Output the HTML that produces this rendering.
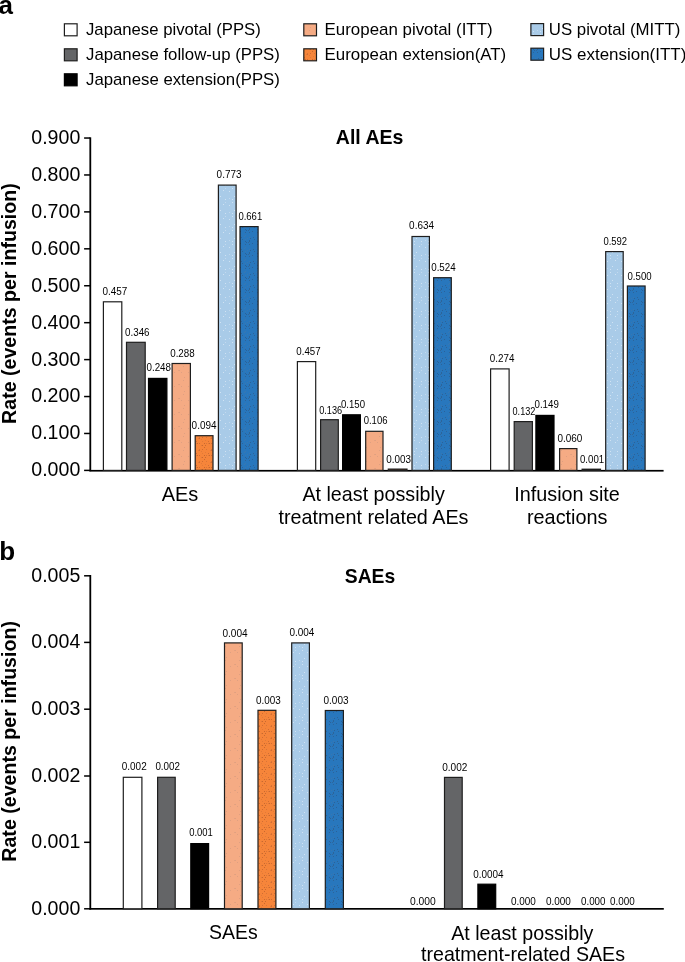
<!DOCTYPE html><html><head><meta charset="utf-8"><style>html,body{margin:0;padding:0;background:#fff;width:685px;height:962px;overflow:hidden}svg{display:block;will-change:transform}text{font-family:"Liberation Sans", sans-serif;fill:#000}</style></head><body>
<svg width="685" height="962" viewBox="0 0 685 962">
<defs>
<pattern id="pLB" width="14" height="14" patternUnits="userSpaceOnUse"><rect width="14" height="14" fill="#a9cbe8"/><rect x="5" y="2" width="1" height="1" fill="#c2d9ee"/><rect x="10" y="0" width="1" height="1" fill="#cfe2f3"/><rect x="13" y="8" width="1" height="1" fill="#cfe2f3"/><rect x="5" y="9" width="1" height="1" fill="#cfe2f3"/><rect x="8" y="3" width="1" height="1" fill="#cfe2f3"/><rect x="1" y="6" width="1" height="1" fill="#c2d9ee"/><rect x="1" y="3" width="1" height="1" fill="#cfe2f3"/><rect x="8" y="6" width="1" height="1" fill="#cfe2f3"/></pattern>
<pattern id="pBL" width="12" height="12" patternUnits="userSpaceOnUse"><rect width="12" height="12" fill="#2877bd"/><rect x="9" y="1" width="1" height="1" fill="#2d6499"/><rect x="10" y="10" width="1" height="1" fill="#2a629a"/><rect x="9" y="9" width="1" height="1" fill="#3a77b0"/><rect x="0" y="3" width="1" height="1" fill="#2a629a"/><rect x="8" y="2" width="1" height="1" fill="#31679b"/><rect x="6" y="2" width="1" height="1" fill="#2a629a"/><rect x="9" y="4" width="1" height="1" fill="#2d6499"/><rect x="1" y="9" width="1" height="1" fill="#2d6499"/><rect x="5" y="1" width="1" height="1" fill="#2a629a"/><rect x="9" y="0" width="1" height="1" fill="#2d6499"/><rect x="7" y="10" width="1" height="1" fill="#3a77b0"/><rect x="5" y="7" width="1" height="1" fill="#3a77b0"/><rect x="5" y="4" width="1" height="1" fill="#2d6499"/><rect x="2" y="11" width="1" height="1" fill="#2d6499"/><rect x="4" y="8" width="1" height="1" fill="#3a77b0"/><rect x="5" y="11" width="1" height="1" fill="#3a77b0"/></pattern>
<pattern id="pOR" width="12" height="12" patternUnits="userSpaceOnUse"><rect width="12" height="12" fill="#f6853a"/><rect x="4" y="9" width="1" height="1" fill="#d06d34"/><rect x="1" y="8" width="1" height="1" fill="#e27b39"/><rect x="2" y="5" width="1" height="1" fill="#d97537"/><rect x="7" y="6" width="1" height="1" fill="#d06d34"/><rect x="10" y="1" width="1" height="1" fill="#c9692f"/><rect x="5" y="11" width="1" height="1" fill="#c9692f"/><rect x="9" y="7" width="1" height="1" fill="#e27b39"/><rect x="1" y="1" width="1" height="1" fill="#c9692f"/><rect x="7" y="11" width="1" height="1" fill="#d06d34"/><rect x="0" y="11" width="1" height="1" fill="#c9692f"/><rect x="10" y="9" width="1" height="1" fill="#e27b39"/><rect x="4" y="11" width="1" height="1" fill="#e27b39"/><rect x="10" y="5" width="1" height="1" fill="#d06d34"/><rect x="7" y="5" width="1" height="1" fill="#d97537"/><rect x="9" y="1" width="1" height="1" fill="#e27b39"/><rect x="0" y="3" width="1" height="1" fill="#c9692f"/><rect x="2" y="11" width="1" height="1" fill="#d97537"/><rect x="6" y="6" width="1" height="1" fill="#e27b39"/></pattern>
<pattern id="pSA" width="14" height="14" patternUnits="userSpaceOnUse"><rect width="14" height="14" fill="#f5ab84"/><rect x="1" y="2" width="1" height="1" fill="#dfa081"/><rect x="6" y="8" width="1" height="1" fill="#dfa081"/><rect x="2" y="13" width="1" height="1" fill="#dfa081"/><rect x="13" y="8" width="1" height="1" fill="#dfa081"/><rect x="11" y="6" width="1" height="1" fill="#dfa081"/><rect x="10" y="6" width="1" height="1" fill="#e5a27f"/></pattern>
</defs>
<text x="-1.50" y="14.00" font-size="26" text-anchor="start" font-weight="bold">a</text>
<text x="-0.80" y="560.20" font-size="26" text-anchor="start" font-weight="bold">b</text>
<rect x="64.40" y="23.80" width="12.70" height="12.00" fill="#ffffff" stroke="#1e1e1e" stroke-width="1.2"/>
<text x="86.00" y="35.10" font-size="16.6" text-anchor="start" font-weight="normal" textLength="174.8" lengthAdjust="spacingAndGlyphs">Japanese pivotal (PPS)</text>
<rect x="64.40" y="48.80" width="12.70" height="12.00" fill="#646567" stroke="#1e1e1e" stroke-width="1.2"/>
<text x="86.00" y="60.10" font-size="16.6" text-anchor="start" font-weight="normal" textLength="193.9" lengthAdjust="spacingAndGlyphs">Japanese follow-up (PPS)</text>
<rect x="64.40" y="73.80" width="12.70" height="12.00" fill="#000000" stroke="#000" stroke-width="1.2"/>
<text x="86.00" y="85.10" font-size="16.6" text-anchor="start" font-weight="normal" textLength="193.9" lengthAdjust="spacingAndGlyphs">Japanese extension(PPS)</text>
<rect x="303.80" y="23.80" width="12.70" height="12.00" fill="url(#pSA)" stroke="#1e1e1e" stroke-width="1.2"/>
<text x="324.60" y="35.10" font-size="16.6" text-anchor="start" font-weight="normal" textLength="168.0" lengthAdjust="spacingAndGlyphs">European pivotal (ITT)</text>
<rect x="303.80" y="48.80" width="12.70" height="12.00" fill="url(#pOR)" stroke="#1e1e1e" stroke-width="1.2"/>
<text x="324.60" y="60.10" font-size="16.6" text-anchor="start" font-weight="normal" textLength="181.6" lengthAdjust="spacingAndGlyphs">European extension(AT)</text>
<rect x="530.90" y="23.60" width="12.70" height="12.00" fill="url(#pLB)" stroke="#1e1e1e" stroke-width="1.2"/>
<text x="548.80" y="34.90" font-size="16.6" text-anchor="start" font-weight="normal" textLength="131.6" lengthAdjust="spacingAndGlyphs">US pivotal (MITT)</text>
<rect x="530.90" y="48.20" width="12.70" height="12.00" fill="url(#pBL)" stroke="#1e1e1e" stroke-width="1.2"/>
<text x="548.80" y="59.50" font-size="16.6" text-anchor="start" font-weight="normal" textLength="137.5" lengthAdjust="spacingAndGlyphs">US extension(ITT)</text>
<rect x="89.4" y="137.30" width="1.8" height="333.90" fill="#000"/>
<rect x="89.4" y="469.90" width="574.20" height="1.7" fill="#000"/>
<rect x="84.1" y="469.65" width="6" height="1.5" fill="#000"/>
<text x="80.30" y="476.30" font-size="20" text-anchor="end" font-weight="normal" textLength="49.0" lengthAdjust="spacingAndGlyphs">0.000</text>
<rect x="84.1" y="432.72" width="6" height="1.5" fill="#000"/>
<text x="80.30" y="439.37" font-size="20" text-anchor="end" font-weight="normal" textLength="49.0" lengthAdjust="spacingAndGlyphs">0.100</text>
<rect x="84.1" y="395.79" width="6" height="1.5" fill="#000"/>
<text x="80.30" y="402.44" font-size="20" text-anchor="end" font-weight="normal" textLength="49.0" lengthAdjust="spacingAndGlyphs">0.200</text>
<rect x="84.1" y="358.86" width="6" height="1.5" fill="#000"/>
<text x="80.30" y="365.51" font-size="20" text-anchor="end" font-weight="normal" textLength="49.0" lengthAdjust="spacingAndGlyphs">0.300</text>
<rect x="84.1" y="321.93" width="6" height="1.5" fill="#000"/>
<text x="80.30" y="328.58" font-size="20" text-anchor="end" font-weight="normal" textLength="49.0" lengthAdjust="spacingAndGlyphs">0.400</text>
<rect x="84.1" y="285.00" width="6" height="1.5" fill="#000"/>
<text x="80.30" y="291.65" font-size="20" text-anchor="end" font-weight="normal" textLength="49.0" lengthAdjust="spacingAndGlyphs">0.500</text>
<rect x="84.1" y="248.07" width="6" height="1.5" fill="#000"/>
<text x="80.30" y="254.72" font-size="20" text-anchor="end" font-weight="normal" textLength="49.0" lengthAdjust="spacingAndGlyphs">0.600</text>
<rect x="84.1" y="211.14" width="6" height="1.5" fill="#000"/>
<text x="80.30" y="217.79" font-size="20" text-anchor="end" font-weight="normal" textLength="49.0" lengthAdjust="spacingAndGlyphs">0.700</text>
<rect x="84.1" y="174.21" width="6" height="1.5" fill="#000"/>
<text x="80.30" y="180.86" font-size="20" text-anchor="end" font-weight="normal" textLength="49.0" lengthAdjust="spacingAndGlyphs">0.800</text>
<rect x="84.1" y="137.28" width="6" height="1.5" fill="#000"/>
<text x="80.30" y="143.93" font-size="20" text-anchor="end" font-weight="normal" textLength="49.0" lengthAdjust="spacingAndGlyphs">0.900</text>
<text x="369.60" y="144.20" font-size="19.8" text-anchor="middle" font-weight="bold" textLength="67.6" lengthAdjust="spacingAndGlyphs">All AEs</text>
<text transform="translate(16,303.6) rotate(-90)" font-size="19.6" font-weight="bold" text-anchor="middle">Rate (events per infusion)</text>
<rect x="103.40" y="301.80" width="18.40" height="168.60" fill="#ffffff" stroke="#1e1e1e" stroke-width="1.2"/>
<rect x="126.50" y="342.30" width="18.70" height="128.10" fill="#646567" stroke="#1e1e1e" stroke-width="1.2"/>
<rect x="148.50" y="378.40" width="18.40" height="92.00" fill="#000000" stroke="#000" stroke-width="1.2"/>
<rect x="172.10" y="363.50" width="18.30" height="106.90" fill="url(#pSA)" stroke="#1e1e1e" stroke-width="1.2"/>
<rect x="195.20" y="435.70" width="17.80" height="34.70" fill="url(#pOR)" stroke="#1e1e1e" stroke-width="1.2"/>
<rect x="218.40" y="185.10" width="17.70" height="285.30" fill="url(#pLB)" stroke="#1e1e1e" stroke-width="1.2"/>
<rect x="240.00" y="226.60" width="18.10" height="243.80" fill="url(#pBL)" stroke="#1e1e1e" stroke-width="1.2"/>
<text x="102.40" y="294.90" font-size="10.8" text-anchor="start" font-weight="normal" textLength="24.9" lengthAdjust="spacingAndGlyphs">0.457</text>
<text x="125.00" y="335.50" font-size="10.8" text-anchor="start" font-weight="normal" textLength="24.6" lengthAdjust="spacingAndGlyphs">0.346</text>
<text x="146.50" y="370.80" font-size="10.8" text-anchor="start" font-weight="normal" textLength="24.5" lengthAdjust="spacingAndGlyphs">0.248</text>
<text x="170.20" y="356.80" font-size="10.8" text-anchor="start" font-weight="normal" textLength="24.5" lengthAdjust="spacingAndGlyphs">0.288</text>
<text x="191.60" y="429.10" font-size="10.8" text-anchor="start" font-weight="normal" textLength="24.9" lengthAdjust="spacingAndGlyphs">0.094</text>
<text x="216.60" y="178.30" font-size="10.8" text-anchor="start" font-weight="normal" textLength="24.9" lengthAdjust="spacingAndGlyphs">0.773</text>
<text x="238.40" y="220.00" font-size="10.8" text-anchor="start" font-weight="normal" textLength="23.8" lengthAdjust="spacingAndGlyphs">0.661</text>
<rect x="297.40" y="361.60" width="18.30" height="108.80" fill="#ffffff" stroke="#1e1e1e" stroke-width="1.2"/>
<rect x="320.60" y="419.70" width="17.70" height="50.70" fill="#646567" stroke="#1e1e1e" stroke-width="1.2"/>
<rect x="342.60" y="414.80" width="17.80" height="55.60" fill="#000000" stroke="#000" stroke-width="1.2"/>
<rect x="365.70" y="431.30" width="17.30" height="39.10" fill="url(#pSA)" stroke="#1e1e1e" stroke-width="1.2"/>
<rect x="388.30" y="469.10" width="18.70" height="1.30" fill="url(#pOR)" stroke="#1e1e1e" stroke-width="1.2"/>
<rect x="412.00" y="236.50" width="17.40" height="233.90" fill="url(#pLB)" stroke="#1e1e1e" stroke-width="1.2"/>
<rect x="433.60" y="277.70" width="17.70" height="192.70" fill="url(#pBL)" stroke="#1e1e1e" stroke-width="1.2"/>
<text x="296.30" y="354.80" font-size="10.8" text-anchor="start" font-weight="normal" textLength="24.3" lengthAdjust="spacingAndGlyphs">0.457</text>
<text x="319.20" y="413.80" font-size="10.8" text-anchor="start" font-weight="normal" textLength="23.0" lengthAdjust="spacingAndGlyphs">0.136</text>
<text x="340.90" y="407.60" font-size="10.8" text-anchor="start" font-weight="normal" textLength="24.1" lengthAdjust="spacingAndGlyphs">0.150</text>
<text x="363.70" y="424.30" font-size="10.8" text-anchor="start" font-weight="normal" textLength="23.8" lengthAdjust="spacingAndGlyphs">0.106</text>
<text x="386.20" y="462.60" font-size="10.8" text-anchor="start" font-weight="normal" textLength="24.7" lengthAdjust="spacingAndGlyphs">0.003</text>
<text x="409.10" y="229.00" font-size="10.8" text-anchor="start" font-weight="normal" textLength="24.9" lengthAdjust="spacingAndGlyphs">0.634</text>
<text x="431.20" y="271.00" font-size="10.8" text-anchor="start" font-weight="normal" textLength="24.5" lengthAdjust="spacingAndGlyphs">0.524</text>
<rect x="490.60" y="368.90" width="18.50" height="101.50" fill="#ffffff" stroke="#1e1e1e" stroke-width="1.2"/>
<rect x="514.20" y="421.60" width="18.20" height="48.80" fill="#646567" stroke="#1e1e1e" stroke-width="1.2"/>
<rect x="535.90" y="415.40" width="18.10" height="55.00" fill="#000000" stroke="#000" stroke-width="1.2"/>
<rect x="559.60" y="448.60" width="17.30" height="21.80" fill="url(#pSA)" stroke="#1e1e1e" stroke-width="1.2"/>
<rect x="582.10" y="469.20" width="18.40" height="1.20" fill="url(#pOR)" stroke="#1e1e1e" stroke-width="1.2"/>
<rect x="605.70" y="251.60" width="17.50" height="218.80" fill="url(#pLB)" stroke="#1e1e1e" stroke-width="1.2"/>
<rect x="627.40" y="286.00" width="17.70" height="184.40" fill="url(#pBL)" stroke="#1e1e1e" stroke-width="1.2"/>
<text x="489.80" y="362.00" font-size="10.8" text-anchor="start" font-weight="normal" textLength="24.6" lengthAdjust="spacingAndGlyphs">0.274</text>
<text x="512.50" y="414.60" font-size="10.8" text-anchor="start" font-weight="normal" textLength="22.9" lengthAdjust="spacingAndGlyphs">0.132</text>
<text x="534.50" y="408.40" font-size="10.8" text-anchor="start" font-weight="normal" textLength="24.3" lengthAdjust="spacingAndGlyphs">0.149</text>
<text x="557.40" y="441.60" font-size="10.8" text-anchor="start" font-weight="normal" textLength="24.9" lengthAdjust="spacingAndGlyphs">0.060</text>
<text x="580.00" y="462.50" font-size="10.8" text-anchor="start" font-weight="normal" textLength="24.1" lengthAdjust="spacingAndGlyphs">0.001</text>
<text x="603.40" y="244.90" font-size="10.8" text-anchor="start" font-weight="normal" textLength="23.7" lengthAdjust="spacingAndGlyphs">0.592</text>
<text x="627.50" y="279.50" font-size="10.8" text-anchor="start" font-weight="normal" textLength="24.1" lengthAdjust="spacingAndGlyphs">0.500</text>
<text x="180.05" y="501.10" font-size="19.8" text-anchor="middle" font-weight="normal" textLength="36.6" lengthAdjust="spacingAndGlyphs">AEs</text>
<text x="373.60" y="501.10" font-size="19.8" text-anchor="middle" font-weight="normal" textLength="142.4" lengthAdjust="spacingAndGlyphs">At least possibly</text>
<text x="373.50" y="524.30" font-size="19.8" text-anchor="middle" font-weight="normal" textLength="190.0" lengthAdjust="spacingAndGlyphs">treatment related AEs</text>
<text x="567.05" y="501.10" font-size="19.8" text-anchor="middle" font-weight="normal" textLength="105.6" lengthAdjust="spacingAndGlyphs">Infusion site</text>
<text x="567.25" y="524.30" font-size="19.8" text-anchor="middle" font-weight="normal" textLength="80.6" lengthAdjust="spacingAndGlyphs">reactions</text>
<rect x="89.4" y="575.00" width="1.8" height="334.60" fill="#000"/>
<rect x="89.4" y="908.00" width="574.40" height="1.7" fill="#000"/>
<rect x="84.1" y="908.05" width="6" height="1.5" fill="#000"/>
<text x="80.30" y="914.70" font-size="20" text-anchor="end" font-weight="normal" textLength="49.0" lengthAdjust="spacingAndGlyphs">0.000</text>
<rect x="84.1" y="841.55" width="6" height="1.5" fill="#000"/>
<text x="80.30" y="848.20" font-size="20" text-anchor="end" font-weight="normal" textLength="49.0" lengthAdjust="spacingAndGlyphs">0.001</text>
<rect x="84.1" y="775.25" width="6" height="1.5" fill="#000"/>
<text x="80.30" y="781.90" font-size="20" text-anchor="end" font-weight="normal" textLength="49.0" lengthAdjust="spacingAndGlyphs">0.002</text>
<rect x="84.1" y="708.45" width="6" height="1.5" fill="#000"/>
<text x="80.30" y="715.10" font-size="20" text-anchor="end" font-weight="normal" textLength="49.0" lengthAdjust="spacingAndGlyphs">0.003</text>
<rect x="84.1" y="641.65" width="6" height="1.5" fill="#000"/>
<text x="80.30" y="648.30" font-size="20" text-anchor="end" font-weight="normal" textLength="49.0" lengthAdjust="spacingAndGlyphs">0.004</text>
<rect x="84.1" y="575.05" width="6" height="1.5" fill="#000"/>
<text x="80.30" y="581.70" font-size="20" text-anchor="end" font-weight="normal" textLength="49.0" lengthAdjust="spacingAndGlyphs">0.005</text>
<text x="370.00" y="582.90" font-size="19.8" text-anchor="middle" font-weight="bold" textLength="50.5" lengthAdjust="spacingAndGlyphs">SAEs</text>
<text transform="translate(16,741.4) rotate(-90)" font-size="19.6" font-weight="bold" text-anchor="middle">Rate (events per infusion)</text>
<rect x="123.30" y="777.30" width="18.60" height="131.50" fill="#ffffff" stroke="#1e1e1e" stroke-width="1.2"/>
<rect x="157.60" y="777.30" width="17.60" height="131.50" fill="#646567" stroke="#1e1e1e" stroke-width="1.2"/>
<rect x="190.80" y="843.60" width="17.80" height="65.20" fill="#000000" stroke="#000" stroke-width="1.2"/>
<rect x="224.50" y="642.90" width="17.70" height="265.90" fill="url(#pSA)" stroke="#1e1e1e" stroke-width="1.2"/>
<rect x="258.00" y="710.30" width="17.90" height="198.50" fill="url(#pOR)" stroke="#1e1e1e" stroke-width="1.2"/>
<rect x="291.70" y="642.90" width="17.70" height="265.90" fill="url(#pLB)" stroke="#1e1e1e" stroke-width="1.2"/>
<rect x="325.30" y="710.50" width="18.10" height="198.30" fill="url(#pBL)" stroke="#1e1e1e" stroke-width="1.2"/>
<text x="121.80" y="770.00" font-size="10.8" text-anchor="start" font-weight="normal" textLength="24.9" lengthAdjust="spacingAndGlyphs">0.002</text>
<text x="155.40" y="770.00" font-size="10.8" text-anchor="start" font-weight="normal" textLength="24.6" lengthAdjust="spacingAndGlyphs">0.002</text>
<text x="189.20" y="836.30" font-size="10.8" text-anchor="start" font-weight="normal" textLength="23.7" lengthAdjust="spacingAndGlyphs">0.001</text>
<text x="222.40" y="636.90" font-size="10.8" text-anchor="start" font-weight="normal" textLength="25.2" lengthAdjust="spacingAndGlyphs">0.004</text>
<text x="256.00" y="703.70" font-size="10.8" text-anchor="start" font-weight="normal" textLength="24.8" lengthAdjust="spacingAndGlyphs">0.003</text>
<text x="289.40" y="635.60" font-size="10.8" text-anchor="start" font-weight="normal" textLength="25.0" lengthAdjust="spacingAndGlyphs">0.004</text>
<text x="323.50" y="703.70" font-size="10.8" text-anchor="start" font-weight="normal" textLength="25.0" lengthAdjust="spacingAndGlyphs">0.003</text>
<rect x="444.50" y="777.40" width="17.70" height="131.40" fill="#646567" stroke="#1e1e1e" stroke-width="1.2"/>
<rect x="477.90" y="884.20" width="17.80" height="24.60" fill="#000000" stroke="#000" stroke-width="1.2"/>
<text x="410.00" y="905.30" font-size="10.8" text-anchor="start" font-weight="normal" textLength="25.8" lengthAdjust="spacingAndGlyphs">0.000</text>
<text x="442.20" y="770.50" font-size="10.8" text-anchor="start" font-weight="normal" textLength="25.2" lengthAdjust="spacingAndGlyphs">0.002</text>
<text x="473.30" y="877.50" font-size="10.8" text-anchor="start" font-weight="normal" textLength="30.3" lengthAdjust="spacingAndGlyphs">0.0004</text>
<text x="510.90" y="905.10" font-size="10.8" text-anchor="start" font-weight="normal" textLength="24.9" lengthAdjust="spacingAndGlyphs">0.000</text>
<text x="545.90" y="905.10" font-size="10.8" text-anchor="start" font-weight="normal" textLength="25.0" lengthAdjust="spacingAndGlyphs">0.000</text>
<text x="581.00" y="905.10" font-size="10.8" text-anchor="start" font-weight="normal" textLength="24.5" lengthAdjust="spacingAndGlyphs">0.000</text>
<text x="610.10" y="905.10" font-size="10.8" text-anchor="start" font-weight="normal" textLength="24.7" lengthAdjust="spacingAndGlyphs">0.000</text>
<text x="233.45" y="938.80" font-size="19.8" text-anchor="middle" font-weight="normal" textLength="48.7" lengthAdjust="spacingAndGlyphs">SAEs</text>
<text x="522.30" y="939.50" font-size="19.8" text-anchor="middle" font-weight="normal" textLength="142.2" lengthAdjust="spacingAndGlyphs">At least possibly</text>
<text x="523.00" y="961.40" font-size="19.8" text-anchor="middle" font-weight="normal" textLength="204.0" lengthAdjust="spacingAndGlyphs">treatment-related SAEs</text>
</svg></body></html>
